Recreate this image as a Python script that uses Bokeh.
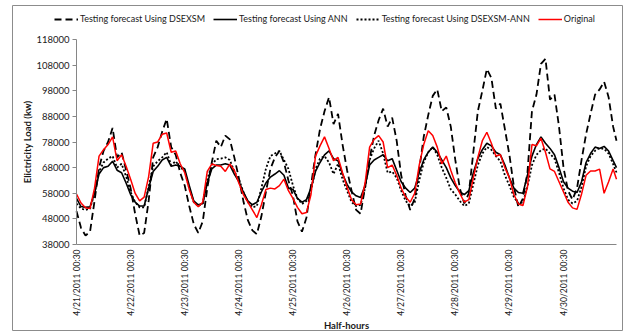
import math
from bokeh.plotting import figure
from bokeh.models import Range1d, FixedTicker, Legend, LegendItem
from bokeh.embed import file_html
from bokeh.resources import INLINE

# ---- data (one value every 2 hours) ----
tick_labels = ["4/21/2011 00:30", "4/22/2011 00:30", "4/23/2011 00:30", "4/24/2011 00:30",
               "4/25/2011 00:30", "4/26/2011 00:30", "4/27/2011 00:30", "4/28/2011 00:30",
               "4/29/2011 00:30", "4/30/2011 00:30"]
y_ticks = [38000, 48000, 58000, 68000, 78000, 88000, 98000, 108000, 118000]

dsexsm = [
    51000, 44500, 41500, 43000, 55000, 68000, 74500, 78000, 83500, 72000, 74000, 67000,
    60000, 50000, 41500, 42500, 55000, 72000, 76000, 82000, 87000, 76000, 73000, 66000,
    61000, 53000, 46000, 42500, 47000, 60000, 70000, 78500, 76000, 80500, 79000, 72000,
    64000, 55000, 47500, 43500, 42000, 49000, 58500, 67500, 72000, 74500, 70000, 63000,
    57000, 47000, 43000, 48500, 61000, 73000, 83000, 90000, 95500, 85000, 89000, 77000,
    67000, 59000, 51500, 50000, 60500, 71500, 80500, 86500, 91000, 84000, 87500, 78500,
    65000, 57000, 51500, 56000, 67000, 80000, 88500, 96000, 98500, 90000, 91500, 84000,
    71000, 60000, 54000, 58000, 74000, 90000, 98000, 106500, 103000, 91000, 93000, 83000,
    73000, 60500, 52500, 56000, 66000, 90000, 96500, 108500, 110500, 94500, 96500, 84000,
    68000, 59000, 55500, 60000, 71000, 81000, 89000, 96500, 98500, 101500, 95500, 84000,
    78500]

ann = [
    56000, 52800, 52500, 52700, 58000, 65500, 68000, 68500, 70500, 67000, 66000, 62000,
    57500, 54500, 53000, 53000, 60000, 66500, 68500, 71000, 72000, 68500, 69000, 68500,
    67500, 61000, 55000, 53500, 54000, 62000, 67500, 69000, 69000, 69500, 69000, 65500,
    62500, 58500, 55000, 53500, 54500, 58500, 62000, 64300, 65500, 66800, 65000, 60000,
    59500, 56000, 54500, 55500, 60000, 66500, 70000, 73000, 74500, 71500, 70700, 65500,
    61500, 58500, 57000, 56300, 61000, 69000, 71000, 72000, 73000, 70700, 71500, 67000,
    62500, 60000, 58300, 60000, 66000, 71000, 74000, 76000, 74000, 71000, 68000, 64000,
    61000, 58500, 57500, 59000, 66000, 71500, 75000, 77500, 76500, 74000, 73000, 69000,
    64000, 60000, 58300, 58000, 65000, 72500, 77000, 80000, 77500, 75500, 73000, 68000,
    62500, 60000, 58800, 58300, 62500, 70000, 73500, 76000, 75500, 76300, 74500, 70700,
    68000]

hybrid = [
    54000, 52000, 51500, 52000, 58000, 66500, 70000, 71500, 72500, 68000, 69500, 64500,
    58500, 54500, 52500, 52500, 60500, 68500, 70500, 72000, 74000, 69000, 70500, 68000,
    67000, 60000, 54500, 53000, 54000, 63500, 69000, 71300, 71500, 72000, 71000, 66500,
    63500, 58500, 54500, 52500, 53000, 60000, 67500, 72500, 73500, 74500, 71000, 67500,
    61000, 56000, 53800, 55000, 59000, 67500, 71500, 72500, 70000, 65500, 69500, 63500,
    59000, 54500, 53000, 53500, 60000, 71000, 75500, 78500, 73500, 66000, 66500, 64000,
    59000, 55000, 53000, 54500, 63000, 70000, 74000, 76000, 73000, 68000, 64000, 59500,
    57500, 55000, 53000, 54000, 61500, 69000, 73500, 76000, 75000, 72500, 70500, 65000,
    61000, 56500, 54000, 54500, 60500, 69000, 73000, 74800, 75500, 73500, 71500, 66000,
    60000, 55500, 54000, 55000, 60500, 68500, 72500, 74600, 75600, 75300, 73500, 69400,
    66100]

original = [
    57700, 54200, 52300, 52000, 60000, 72500, 75000, 77000, 80000, 70700, 73000, 68500,
    63500, 58000, 55000, 56500, 64500, 77500, 78000, 81000, 81500, 74000, 74500, 69500,
    66000, 59500, 54500, 52700, 54500, 66500, 69400, 68800, 68500, 66500, 69400, 67000,
    62000, 57500, 54500, 51500, 48500, 53500, 59500, 60000, 59700, 61000, 63500, 59000,
    56000, 52500, 50000, 50500, 57500, 72500, 76500, 80000, 75500, 70700, 72000, 66000,
    60300, 55500, 53500, 53800, 62000, 76000, 79000, 80500, 78000, 68000, 69000, 65000,
    60000, 56500, 54500, 58000, 69000, 77000, 82400, 80500, 76000, 69500, 72500, 67000,
    62000, 58000, 54500, 55500, 64000, 72000, 78500, 81800, 77500, 72500, 73000, 68000,
    64000, 57500, 53800, 53200, 60500, 77000, 76500, 79500, 74000, 67500, 66500, 62500,
    58500, 54500, 52300, 51700, 57700, 65000, 66700, 66700, 67400, 58000, 62500, 67500,
    63500]

# half-hour index of each reading (every 4th half-hour, plus the last one)
half_hour = list(range(0, 480, 4)) + [479]

# ---- layout (pixels) ----
W, H = 624, 332
PX_L, PX_R, PX_T, PX_B = 76, 616, 39, 244      # data area in the picture
X_MIN, X_MAX = 0, 479
Y_MIN, Y_MAX = y_ticks[0], y_ticks[-1]
kx = (PX_R - PX_L) / (X_MAX - X_MIN)
ky = (PX_B - PX_T) / (Y_MAX - Y_MIN)

FONT = "Lato"
TXT = "#1a1a1a"

p = figure(width=W, height=H, output_backend="svg", toolbar_location=None,
           x_range=Range1d(X_MIN - PX_L / kx, X_MAX + (W - PX_R) / kx),
           y_range=Range1d(Y_MIN - (H - PX_B) / ky, Y_MAX + PX_T / ky),
           min_border=0)
p.title.visible = False
p.outline_line_color = None
p.xgrid.visible = False
p.ygrid.visible = False
p.background_fill_color = "white"
p.border_fill_color = "white"

# chart border (decoration)
p.quad(left=X_MIN - (PX_L - 12) / kx, right=X_MIN + (622 - PX_L) / kx,
       top=Y_MAX + (PX_T - 5) / ky, bottom=Y_MIN - (330 - PX_B) / ky,
       fill_color=None, line_color="#8c8c8c", line_width=1)

r1 = p.line(half_hour, dsexsm, line_color="black", line_width=1.8, line_dash="7 4")
r2 = p.line(half_hour, ann, line_color="black", line_width=1.6)
r3 = p.line(half_hour, hybrid, line_color="black", line_width=1.8, line_dash="2 2")
r4 = p.line(half_hour, original, line_color="#ff0000", line_width=1.5)

# y axis
ya = p.yaxis[0]
ya.fixed_location = X_MIN
ya.bounds = (Y_MIN, Y_MAX)
ya.ticker = FixedTicker(ticks=y_ticks)
ya.major_label_overrides = {v: str(v) for v in y_ticks}
ya.minor_tick_line_color = None
ya.major_tick_out = 4
ya.major_tick_in = 0
ya.axis_line_color = "#868686"
ya.major_tick_line_color = "#868686"
ya.major_label_text_font = FONT
ya.major_label_text_font_size = "9.5px"
ya.major_label_text_color = TXT
ya.major_label_standoff = 3
ya.axis_label = "Elictricity Load (kw)"
ya.axis_label_text_font = FONT
ya.axis_label_text_font_size = "9.5px"
ya.axis_label_text_font_style = "bold"
ya.axis_label_text_color = TXT
ya.axis_label_standoff = 0

# x axis
xa = p.xaxis[0]
xa.fixed_location = Y_MIN
xa.bounds = (X_MIN, X_MAX)
x_ticks = [48 * i for i in range(len(tick_labels))]
xa.ticker = FixedTicker(ticks=x_ticks)
xa.major_label_overrides = {t: lab for t, lab in zip(x_ticks, tick_labels)}
xa.major_label_orientation = math.pi / 2
xa.minor_tick_line_color = None
xa.major_tick_line_color = None
xa.major_tick_out = 0
xa.major_tick_in = 0
xa.axis_line_color = "#868686"
xa.major_label_text_font = FONT
xa.major_label_text_font_size = "8.5px"
xa.major_label_text_color = TXT
xa.major_label_standoff = 5
xa.axis_label = "Half-hours"
xa.axis_label_text_font = FONT
xa.axis_label_text_font_size = "9.5px"
xa.axis_label_text_font_style = "bold"
xa.axis_label_text_color = TXT
xa.axis_label_standoff = 1

legend = Legend(items=[
    LegendItem(label="Testing forecast Using DSEXSM", renderers=[r1]),
    LegendItem(label="Testing forecast Using ANN", renderers=[r2]),
    LegendItem(label="Testing forecast Using DSEXSM-ANN", renderers=[r3]),
    LegendItem(label="Original", renderers=[r4]),
], orientation="horizontal", location=(54, H - 24))
legend.label_text_font = FONT
legend.label_text_font_size = "9px"
legend.label_text_color = TXT
legend.glyph_width = 24
legend.glyph_height = 10
legend.label_height = 10
legend.label_standoff = 2
legend.spacing = 8
legend.padding = 0
legend.margin = 0
legend.border_line_color = None
legend.background_fill_alpha = 0
p.add_layout(legend)

open("out.html", "w").write(file_html(p, INLINE))
